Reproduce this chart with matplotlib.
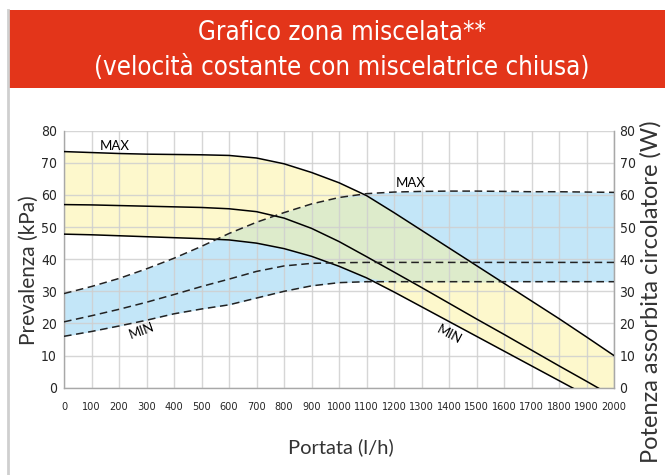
import matplotlib
matplotlib.use("Agg")
import matplotlib.pyplot as plt
from matplotlib.patches import Rectangle
from matplotlib.lines import Line2D
import numpy as np

# Flow rate (l/h)
flow = [0, 100, 200, 300, 400, 500, 600, 700, 800, 900, 1000,
        1100, 1200, 1300, 1400, 1500, 1600, 1700, 1800, 1900, 2000]

# Head curves (kPa) at max / medium / min speed
head_max = [73.5, 73.2, 72.9, 72.7, 72.6, 72.5, 72.3, 71.5, 69.7, 67.0, 63.8,
            59.8, 54.5, 49.0, 43.5, 38.0, 32.5, 27.0, 21.5, 15.8, 10.0]
head_mid = [57.0, 56.9, 56.7, 56.5, 56.3, 56.1, 55.7, 54.8, 52.8, 49.6, 45.5,
            40.8, 36.0, 31.2, 26.3, 21.4, 16.6, 11.7, 6.8, 2.0, -2.9]
head_min = [47.8, 47.6, 47.3, 47.0, 46.7, 46.4, 46.0, 45.0, 43.3, 40.9, 37.8,
            34.2, 29.8, 25.2, 20.6, 16.0, 11.4, 6.8, 2.2, -2.4, -7.0]

# Circulator power absorbed (W) at max / medium / min speed
power_max = [29.3, 31.5, 34.0, 37.0, 40.3, 44.0, 48.0, 51.5, 54.5, 57.2, 59.2,
             60.4, 60.9, 61.1, 61.2, 61.2, 61.1, 61.0, 61.0, 60.9, 60.8]
power_mid = [20.5, 22.4, 24.4, 26.6, 29.0, 31.5, 33.8, 36.2, 37.9, 38.7, 38.9,
             39.0, 39.0, 39.0, 39.0, 39.0, 39.0, 39.0, 39.0, 39.0, 39.0]
power_min = [16.0, 17.5, 19.2, 21.0, 23.0, 24.5, 25.8, 27.9, 30.0, 31.7, 32.7,
             33.0, 33.0, 33.0, 33.0, 33.0, 33.0, 33.0, 33.0, 33.0, 33.0]

x_ticks = list(range(0, 2001, 100))
y_ticks = list(range(0, 81, 10))

title_lines = ["Grafico zona miscelata**", "(velocità costante con miscelatrice chiusa)"]

RED = "#E3351A"
YELLOW = "#FDF8CC"
BLUE = "#C3E6F8"
GREEN = "#DDEBCB"
GRID = "#CFCFCF"
INK = "#262626"

COND = dict(family=["DejaVu Sans"], stretch="condensed")
REG = ["Lato", "DejaVu Sans"]

fig = plt.figure(figsize=(6.65, 4.75), dpi=100)
W, H = 665, 475

# Panel frame and red header band
fig.add_artist(Line2D([8 / W, 8 / W], [0, 1 - 10 / H], transform=fig.transFigure,
                      color="#CFCFCF", lw=2))
fig.add_artist(Rectangle((8 / W, 1 - 88 / H), 1 - 8 / W, 78 / H, transform=fig.transFigure,
                         facecolor=RED, edgecolor="none"))
fig.text(342 / W, 1 - 33 / H, title_lines[0], color="white", fontsize=18.5,
         ha="center", va="center", **COND)
fig.text(342 / W, 1 - 68 / H, title_lines[1], color="white", fontsize=18.5,
         ha="center", va="center", **COND)

ax = fig.add_axes([64 / W, 1 - 387.7 / H, (614 - 64) / W, (387.7 - 130.7) / H])
ax.set_xlim(0, 2000)
ax.set_ylim(0, 80)

f = np.array(flow, float)
hmax, hmin = np.array(head_max), np.array(head_min)
pmax, pmin = np.array(power_max), np.array(power_min)

# Working areas: pump head band (yellow), power band (blue), overlap (green)
ax.fill_between(f, hmin, hmax, color=YELLOW, lw=0, zorder=1)
ax.fill_between(f, pmin, pmax, color=BLUE, lw=0, zorder=1)
lo = np.maximum(hmin, pmin)
hi = np.minimum(hmax, pmax)
ax.fill_between(f, lo, hi, where=hi > lo, interpolate=True, color=GREEN, lw=0, zorder=1)

ax.set_xticks(x_ticks)
ax.set_yticks(y_ticks)
ax.grid(True, color=GRID, lw=1)
for gl in ax.get_xgridlines() + ax.get_ygridlines():
    gl.set_zorder(1.5)
    gl.set_alpha(0.85)

for h in (head_max, head_mid, head_min):
    ax.plot(flow, h, color="black", lw=1.1, zorder=3)
for p in (power_max, power_mid, power_min):
    ax.plot(flow, p, color="#222222", lw=1.1, ls=(0, (5, 3)), zorder=3)

ax.spines["top"].set_visible(False)
for side in ("left", "bottom", "right"):
    ax.spines[side].set_color("#A8A8A8")
    ax.spines[side].set_linewidth(1)

ax.tick_params(axis="both", length=0, colors=INK)
ax.tick_params(axis="x", pad=10)
ax.tick_params(axis="y", pad=5)
for lab in ax.get_xticklabels():
    lab.set_fontsize(7.8)
    lab.set_family(COND["family"])
    lab.set_stretch("condensed")
for lab in ax.get_yticklabels():
    lab.set_fontsize(10)
    lab.set_family(COND["family"])
    lab.set_stretch("condensed")

ax2 = ax.twinx()
ax2.set_ylim(0, 80)
ax2.set_yticks(y_ticks)
ax2.tick_params(axis="y", length=0, pad=4, colors=INK)
for lab in ax2.get_yticklabels():
    lab.set_fontsize(10)
    lab.set_family(COND["family"])
    lab.set_stretch("condensed")
for side in ("top", "left", "bottom"):
    ax2.spines[side].set_visible(False)
ax2.spines["right"].set_color("#A8A8A8")

ax.set_ylabel("Prevalenza (kPa)", fontsize=15, family=REG, color="#333333")
ax.yaxis.set_label_coords((29 - 64) / 550, (387.7 - 270) / 257)
ax2.set_ylabel("Potenza assorbita circolatore (W)", fontsize=17, family=REG,
               color="#333333", rotation=90)
ax2.yaxis.set_label_coords((651 - 64) / 550, (387.7 - 292) / 257)
ax.set_xlabel("Portata (l/h)", fontsize=14.5, family=REG, color="#333333")
ax.xaxis.set_label_coords((341 - 64) / 550, (387.7 - 447) / 257)
ax.xaxis.label.set_va("center")
ax.yaxis.label.set_va("center")
ax2.yaxis.label.set_va("center")

# Curve labels
ax.text(185, 75.3, "MAX", fontsize=9.5, family=REG, ha="center", va="center", zorder=4)
ax.text(1262, 63.8, "MAX", fontsize=9.5, family=REG, ha="center", va="center", zorder=4)
ax.text(282, 17.8, "MIN", fontsize=9.5, family=REG, ha="center", va="center",
        rotation=20, zorder=4)
ax.text(1400, 16.5, "MIN", fontsize=9.5, family=REG, ha="center", va="center",
        rotation=-28, zorder=4)

fig.savefig("out.png", dpi=100, facecolor="white")
